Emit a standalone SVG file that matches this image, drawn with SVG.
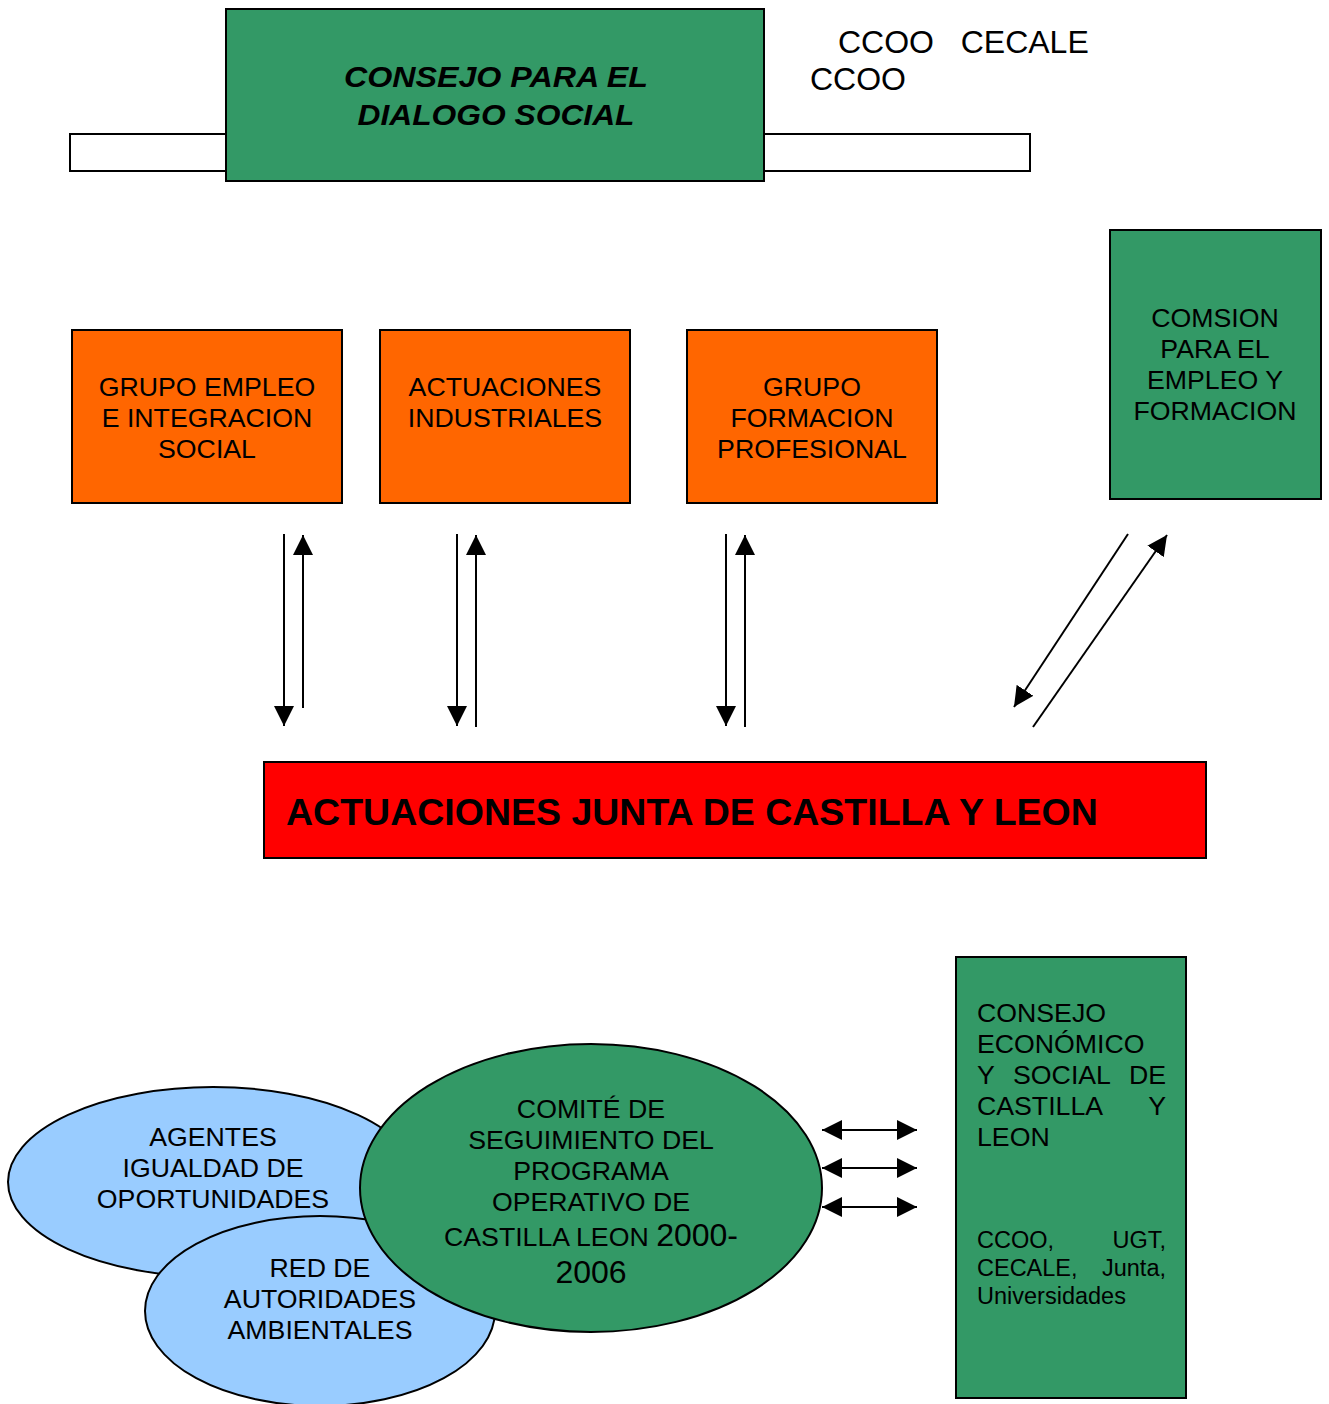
<svg xmlns="http://www.w3.org/2000/svg" width="1329" height="1404" viewBox="0 0 1329 1404">
<defs>
<style>
text{font-family:"Liberation Sans",Arial,sans-serif;fill:#000}
.g{fill:#339966;stroke:#000;stroke-width:2}
.o{fill:#FF6600;stroke:#000;stroke-width:2}
.b{fill:#99CCFF;stroke:#000;stroke-width:2}
.w{fill:#fff;stroke:#000;stroke-width:2}
.t25{font-size:26.7px}
.sm{font-size:23.5px}
.c{text-anchor:middle}
.ln{stroke:#000;stroke-width:2;fill:none}
</style>
<marker id="ah2" viewBox="0 0 20 20" refX="20" refY="10" markerWidth="20" markerHeight="20" markerUnits="userSpaceOnUse" orient="auto-start-reverse">
<path d="M0,0 L20,10 L0,20 z" fill="#000"/>
</marker>
</defs>
<rect width="1329" height="1404" fill="#fff"/>

<g id="side-bars">
<rect class="w" x="70" y="134" width="156" height="37"/>
<rect class="w" x="764" y="134" width="266" height="37"/>
</g>
<g id="consejo-dialogo">
<rect class="g" x="226" y="9" width="538" height="172"/>
<text class="c" x="496" y="87" font-size="30" font-weight="bold" font-style="italic" textLength="304" lengthAdjust="spacingAndGlyphs">CONSEJO PARA EL</text>
<text class="c" x="496" y="125" font-size="30" font-weight="bold" font-style="italic" textLength="277" lengthAdjust="spacingAndGlyphs">DIALOGO SOCIAL</text>
</g>
<g id="labels-top">
<text x="838" y="53" font-size="32" xml:space="preserve">CCOO   CECALE</text>
<text x="810" y="90" font-size="32">CCOO</text>
</g>

<g id="grupo-empleo">
<rect class="o" x="72" y="330" width="270" height="173"/>
<text class="c t25" x="207" y="396">GRUPO EMPLEO</text>
<text class="c t25" x="207" y="427">E INTEGRACION</text>
<text class="c t25" x="207" y="458">SOCIAL</text>
</g>
<g id="actuaciones-industriales">
<rect class="o" x="380" y="330" width="250" height="173"/>
<text class="c t25" x="505" y="396">ACTUACIONES</text>
<text class="c t25" x="505" y="427">INDUSTRIALES</text>
</g>
<g id="grupo-formacion">
<rect class="o" x="687" y="330" width="250" height="173"/>
<text class="c t25" x="812" y="396">GRUPO</text>
<text class="c t25" x="812" y="427">FORMACION</text>
<text class="c t25" x="812" y="458">PROFESIONAL</text>
</g>
<g id="comision-empleo">
<rect class="g" x="1110" y="230" width="211" height="269"/>
<text class="c t25" x="1215" y="327">COMSION</text>
<text class="c t25" x="1215" y="358">PARA EL</text>
<text class="c t25" x="1215" y="389">EMPLEO Y</text>
<text class="c t25" x="1215" y="420">FORMACION</text>
</g>

<g id="actuaciones-junta">
<rect x="264" y="762" width="942" height="96" fill="#FF0000" stroke="#000" stroke-width="2"/>
<text x="286" y="825" font-size="37.5" font-weight="bold">ACTUACIONES JUNTA DE CASTILLA Y LEON</text>
</g>

<g id="agentes-igualdad">
<ellipse class="b" cx="213" cy="1182" rx="205" ry="95"/>
<text class="c t25" x="213" y="1146">AGENTES</text>
<text class="c t25" x="213" y="1177">IGUALDAD DE</text>
<text class="c t25" x="213" y="1208">OPORTUNIDADES</text>
</g>
<g id="red-autoridades">
<ellipse class="b" cx="320" cy="1311" rx="175" ry="95"/>
<text class="c t25" x="320" y="1277">RED DE</text>
<text class="c t25" x="320" y="1308">AUTORIDADES</text>
<text class="c t25" x="320" y="1339">AMBIENTALES</text>
</g>
<g id="comite-seguimiento">
<ellipse class="g" cx="591" cy="1188" rx="231" ry="144"/>
<text class="c t25" x="591" y="1118">COMITÉ DE</text>
<text class="c t25" x="591" y="1149">SEGUIMIENTO DEL</text>
<text class="c t25" x="591" y="1180">PROGRAMA</text>
<text class="c t25" x="591" y="1211">OPERATIVO DE</text>
<text class="c t25" x="591" y="1246">CASTILLA LEON <tspan font-size="32">2000-</tspan></text>
<text class="c" x="591" y="1283" font-size="32">2006</text>
</g>
<g id="consejo-economico">
<rect class="g" x="956" y="957" width="230" height="441"/>
<text class="t25" x="977" y="1022">CONSEJO</text>
<text class="t25" x="977" y="1053">ECONÓMICO</text>
<text class="t25" x="977" y="1084">Y</text>
<text class="t25" x="1062" y="1084" text-anchor="middle">SOCIAL</text>
<text class="t25" x="1166" y="1084" text-anchor="end">DE</text>
<text class="t25" x="977" y="1115">CASTILLA</text>
<text class="t25" x="1166" y="1115" text-anchor="end">Y</text>
<text class="t25" x="977" y="1146">LEON</text>
<text class="sm" x="977" y="1248">CCOO,</text>
<text class="sm" x="1166" y="1248" text-anchor="end">UGT,</text>
<text class="sm" x="977" y="1276">CECALE,</text>
<text class="sm" x="1166" y="1276" text-anchor="end">Junta,</text>
<text class="sm" x="977" y="1304">Universidades</text>
</g>

<g id="connectors">
<line class="ln" x1="284" y1="534" x2="284" y2="726" marker-end="url(#ah2)"/>
<line class="ln" x1="303" y1="708" x2="303" y2="535" marker-end="url(#ah2)"/>
<line class="ln" x1="457" y1="534" x2="457" y2="726" marker-end="url(#ah2)"/>
<line class="ln" x1="476" y1="727" x2="476" y2="535" marker-end="url(#ah2)"/>
<line class="ln" x1="726" y1="534" x2="726" y2="726" marker-end="url(#ah2)"/>
<line class="ln" x1="745" y1="727" x2="745" y2="535" marker-end="url(#ah2)"/>
<line class="ln" x1="1128" y1="534" x2="1014" y2="707" marker-end="url(#ah2)"/>
<line class="ln" x1="1033" y1="727" x2="1167" y2="535" marker-end="url(#ah2)"/>
<line class="ln" x1="822" y1="1130" x2="917" y2="1130" marker-start="url(#ah2)" marker-end="url(#ah2)"/>
<line class="ln" x1="822" y1="1168" x2="917" y2="1168" marker-start="url(#ah2)" marker-end="url(#ah2)"/>
<line class="ln" x1="822" y1="1207" x2="917" y2="1207" marker-start="url(#ah2)" marker-end="url(#ah2)"/>
</g>
</svg>
